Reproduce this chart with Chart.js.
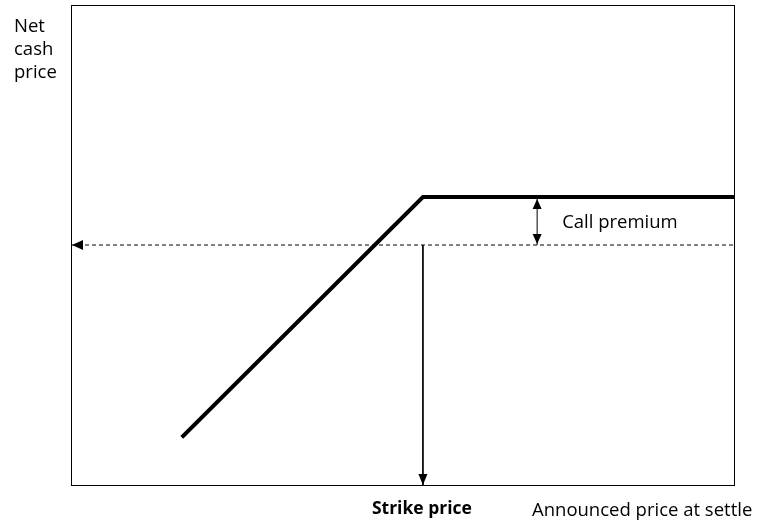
<!DOCTYPE html>
<html>
<head>
<meta charset="utf-8">
<script src="https://cdn.jsdelivr.net/npm/chart.js@4/dist/chart.umd.min.js"></script>
<style>
html,body{margin:0;padding:0;background:#fff;}
#wrap{width:760px;height:523px;}
</style>
</head>
<body>
<div id="wrap"><canvas id="c" width="760" height="523"></canvas></div>
<script>
// Schematic values (axes 0-100, unlabelled)
const payoffX = [16.9, 53, 100];
const payoffY = [10.2, 60, 60];
const strikeX = 53;
const priceLevel = 50;
const capLevel = 60;
const premiumX = 70.2;
const yAxisLabel = ["Net", "cash", "price"];
const xAxisLabel = "Announced price at settle";
const strikeLabel = "Strike price";
const premiumLabel = "Call premium";

const FONT = '"Open Sans", sans-serif';

const pts = (xs, ys) => xs.map((x, i) => ({x, y: ys[i]}));

function arrowHead(ctx, tipX, tipY, dir, len, half) {
  ctx.save();
  ctx.translate(tipX, tipY);
  ctx.rotate(dir);
  ctx.beginPath();
  ctx.moveTo(0, 0);
  ctx.lineTo(-len, -half);
  ctx.lineTo(-len, half);
  ctx.closePath();
  ctx.fillStyle = '#000';
  ctx.fill();
  ctx.restore();
}

const decor = {
  id: 'decor',
  afterDatasetsDraw(chart) {
    const {ctx, chartArea: a, scales: {x, y}} = chart;
    ctx.save();
    // frame
    ctx.strokeStyle = '#000';
    ctx.lineWidth = 1;
    ctx.strokeRect(a.left + 0.5, a.top + 0.5, a.right - a.left - 1, a.bottom - a.top);
    // arrowheads
    arrowHead(ctx, x.getPixelForValue(0) + 1, y.getPixelForValue(priceLevel), Math.PI, 11, 5);
    arrowHead(ctx, x.getPixelForValue(strikeX), y.getPixelForValue(0), Math.PI / 2, 11, 4.5);
    arrowHead(ctx, x.getPixelForValue(premiumX), y.getPixelForValue(capLevel) + 2, -Math.PI / 2, 10, 4.5);
    arrowHead(ctx, x.getPixelForValue(premiumX), y.getPixelForValue(priceLevel) - 1, Math.PI / 2, 10, 4.5);
    // texts
    ctx.fillStyle = '#000';
    ctx.textBaseline = 'alphabetic';
    ctx.font = '18.5px ' + FONT;
    ctx.textAlign = 'left';
    ctx.fillText(premiumLabel, x.getPixelForValue(premiumX) + 25, y.getPixelForValue(priceLevel) - 17);
    yAxisLabel.forEach((t, i) => ctx.fillText(t, 14, 32 + i * 23));
    ctx.fillText(xAxisLabel, 532, a.bottom + 31);
    ctx.font = 'bold 17.5px ' + FONT;
    ctx.textAlign = 'center';
    ctx.fillText(strikeLabel, x.getPixelForValue(strikeX) - 1, a.bottom + 29);
    ctx.restore();
  }
};

new Chart(document.getElementById('c'), {
  type: 'scatter',
  data: {
    datasets: [
      {data: pts(payoffX, payoffY), showLine: true, borderColor: '#000', borderWidth: 4, pointRadius: 0, borderCapStyle: 'square'},
      {data: pts([0, 100], [priceLevel, priceLevel]), showLine: true, borderColor: '#000', borderWidth: 1, borderDash: [4, 3], pointRadius: 0},
      {data: pts([strikeX, strikeX], [priceLevel, 0]), showLine: true, borderColor: '#000', borderWidth: 1, pointRadius: 0},
      {data: pts([premiumX, premiumX], [priceLevel, capLevel]), showLine: true, borderColor: '#000', borderWidth: 1, pointRadius: 0}
    ]
  },
  options: {
    responsive: false,
    animation: false,
    layout: {padding: {left: 71, top: 5, right: 25, bottom: 38}},
    plugins: {legend: {display: false}, tooltip: {enabled: false}},
    scales: {
      x: {type: 'linear', min: 0, max: 100, display: false},
      y: {type: 'linear', min: 0, max: 100, display: false}
    }
  },
  plugins: [decor]
});
</script>
</body>
</html>
